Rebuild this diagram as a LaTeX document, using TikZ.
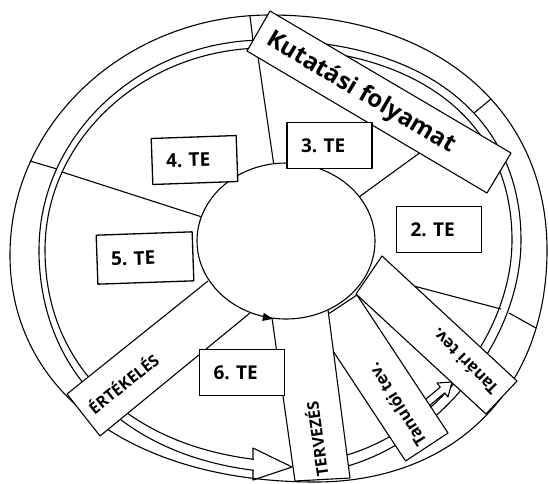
\documentclass[tikz,border=0pt]{standalone}
\usepackage{fontspec}
\setmainfont{Open Sans}
\frenchspacing
\begin{document}
\begin{tikzpicture}[x=1pt,y=-1pt,line width=1.1pt,line join=round,
  stripfill/.style={fill=white},
  tebox/.style={draw=black,fill=white,line width=1.3pt,minimum height=46pt,inner xsep=14pt,text width=57pt,align=left,font=\bfseries\fontsize{19}{21}\selectfont},
  striplabel/.style={inner sep=0pt,font=\bfseries\fontsize{16}{18}\selectfont},
  tevlabel/.style={inner sep=0pt,font=\bfseries\fontsize{16.5}{18}\selectfont}]
\useasboundingbox (0,0) rectangle (548,483);

% outer ring E1
\draw (10,255) .. controls (10,122.4) and (126.4,15) .. (270,15)
  .. controls (436.2,15) and (547,109) .. (547,250)
  .. controls (547,389.8) and (454.2,482) .. (315,482)
  .. controls (132,482) and (10,391.8) .. (10,255);
% band outer line E2
\draw (39,250) .. controls (39,134.5) and (140.7,40) .. (265,40)
  .. controls (423.7,40) and (521,116) .. (521,240)
  .. controls (521,356.5) and (410.5,473) .. (300,473)
  .. controls (143.4,473) and (39,383.8) .. (39,250);
% band inner line E3
\draw (45,250) .. controls (45,138.9) and (144,48) .. (265,48)
  .. controls (418.1,48) and (512,121) .. (512,240)
  .. controls (512,351) and (406,462) .. (300,462)
  .. controls (147,462) and (45,377.2) .. (45,250);

% separators in the outer band
\draw (250,16) -- (253,41);
\draw (30,161) -- (57,169);
\draw (491,99) -- (474,113);
\draw (509,313) -- (536,328);
% sector lines
\draw (274,166) -- (257,50);
\draw (202,217) -- (62,172);
\draw (359,197) -- (425,149);
\draw (372,275) -- (501,309);

% big hollow arrowhead at the bottom
\fill[white] (254,452) rectangle (296,476.5);
\draw (253,459.3) -- (253,448) -- (292,467) -- (253,480) -- (253,470.2);

% small hollow arrow
\fill[white] (426,399) -- (440.3,387.2) -- (437,383) -- (452,382) -- (448,397) -- (444.7,392.8) -- (429.8,405.4) -- cycle;
\draw (426,399) -- (440.3,387.2) -- (437,383) -- (452,382) -- (448,397) -- (444.7,392.8) -- (429.8,405.4);

% strips
\filldraw[stripfill] (247,51) -- (270,11) -- (511,153) -- (487,193) -- cycle;
\node[rotate=-30.5,inner sep=0pt,font=\bfseries\fontsize{24}{26}\selectfont] (kut) at (361,93) {Kutatási folyamat};

\filldraw[stripfill] (314.6,323) -- (357,295) -- (448,433) -- (405.6,461) -- cycle;
\node[tevlabel,rotate=122] (tanuloi) at (397,405) {Tanulói tev.};

\filldraw[stripfill] (382,256) -- (517,381) -- (486,414) -- (356,294) -- cycle;
\node[tevlabel,rotate=135] (tanari) at (465,362) {Tanári tev.};

\fill[white] (328,310) -- (272,318) -- (295,481) -- (350,478) -- cycle;
\draw (272,318) -- (295,481) -- (350,478) -- (328,310);
\node[striplabel,rotate=98] (terv) at (316,439) {TERVEZÉS};

\fill[white] (208,281) -- (67,394) -- (100,436) -- (250,313) -- cycle;
\draw (208,281) -- (67,394) -- (100,436) -- (250,313);
\node[striplabel,rotate=38.6] (ert) at (123,383) {ÉRTÉKELÉS};

% inner circle
\filldraw[fill=white] (286,241) ellipse [x radius=89pt, y radius=78pt];
\fill (273,318.8) -- (263.8,312.9) -- (262.2,320.9) -- cycle;

% TE boxes
\node[tebox] (te3) at (329.5,145.5) {3. TE};
\node[tebox,rotate=2] (te4) at (194.5,160) {4. TE};
\node[tebox] (te2) at (439,229.5) {2. TE};
\node[tebox,rotate=2,minimum height=49pt,text width=68pt] (te5) at (145,258) {5. TE};
\node[tebox] (te6) at (242,372.5) {6. TE};
\end{tikzpicture}
\end{document}
